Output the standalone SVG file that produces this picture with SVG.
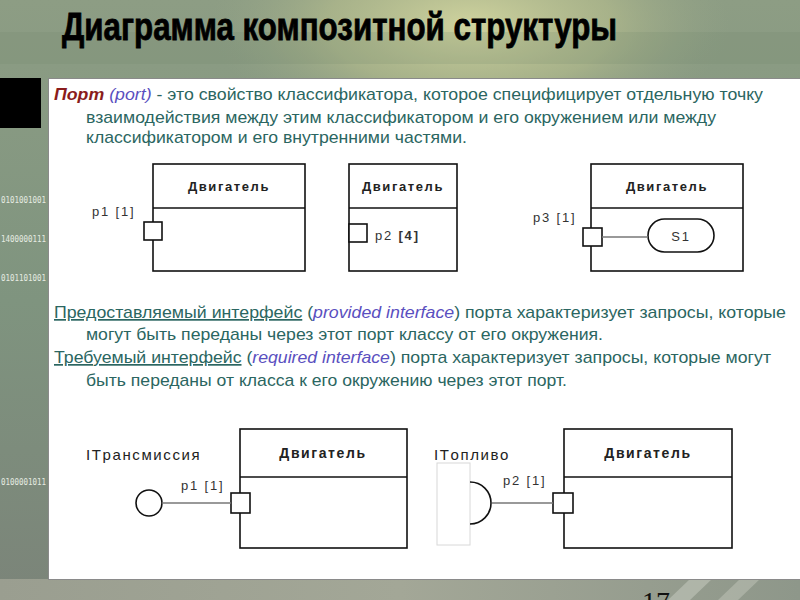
<svg xmlns="http://www.w3.org/2000/svg" width="800" height="600" viewBox="0 0 800 600">
<defs>
<linearGradient id="bg" x1="0" y1="0" x2="0" y2="1">
<stop offset="0" stop-color="#8d9d84"/>
<stop offset="0.5" stop-color="#7f947f"/>
<stop offset="1" stop-color="#7b8479"/>
</linearGradient>
<radialGradient id="glow" cx="470" cy="25" r="260" gradientUnits="userSpaceOnUse" gradientTransform="translate(470 25) scale(1 0.45) translate(-470 -25)">
<stop offset="0" stop-color="#d3d6a0" stop-opacity="0.95"/>
<stop offset="0.55" stop-color="#b9c08e" stop-opacity="0.6"/>
<stop offset="1" stop-color="#9aa888" stop-opacity="0"/>
</radialGradient>
<linearGradient id="streak" x1="0" y1="0" x2="1" y2="0">
<stop offset="0" stop-color="#9a9e90"/>
<stop offset="0.5" stop-color="#a3a797"/>
<stop offset="1" stop-color="#8e978a"/>
</linearGradient>
<style>
.para{font-family:"Liberation Sans",Arial,sans-serif;font-size:17px;fill:#2b6661}
.term{fill:#8a1c1c;font-weight:bold;font-style:italic}
.en{fill:#5a4fc0;font-style:italic}
.ul{text-decoration:underline}
.box{fill:#fff;stroke:#111;stroke-width:1.6}
.port{fill:#fff;stroke:#111;stroke-width:1.6}
.hdr{font-family:"Liberation Sans",Arial,sans-serif;font-weight:bold;font-size:13px;letter-spacing:1.6px;fill:#222;text-anchor:middle}
.hdr2{font-family:"Liberation Sans",Arial,sans-serif;font-weight:bold;font-size:14px;letter-spacing:1.6px;fill:#222;text-anchor:middle}
.lbl{font-family:"Liberation Sans",Arial,sans-serif;font-size:13px;letter-spacing:1.8px;fill:#333}
.lbl2{font-family:"Liberation Sans",Arial,sans-serif;font-size:15px;letter-spacing:1.6px;fill:#222}
.bin{font-family:"DejaVu Sans Mono",monospace;font-size:8px;fill:#e6ece2}
.conn{stroke:#777;stroke-width:1.6;fill:none}
</style>
</defs>
<!-- background -->
<rect x="0" y="0" width="800" height="600" fill="url(#bg)"/>
<rect x="0" y="0" width="800" height="140" fill="url(#glow)"/>
<rect x="0" y="32" width="800" height="32" fill="#6f8468" opacity="0.18"/>
<rect x="0" y="579" width="800" height="21" fill="url(#streak)"/>
<polygon points="690,579 712,579 690,600 668,600" fill="#c2c6ba" opacity="0.6"/>
<polygon points="740,579 760,579 738,600 718,600" fill="#c2c6ba" opacity="0.5"/>
<rect x="0" y="78" width="41" height="50" fill="#000"/>
<text class="bin" x="1" y="203" textLength="45" lengthAdjust="spacingAndGlyphs">0101001001</text>
<text class="bin" x="1" y="242" textLength="45" lengthAdjust="spacingAndGlyphs">1400000111</text>
<text class="bin" x="1" y="281" textLength="45" lengthAdjust="spacingAndGlyphs">0101101001</text>
<text class="bin" x="1" y="485" textLength="45" lengthAdjust="spacingAndGlyphs">0100001011</text>
<!-- title -->
<text x="62" y="40" font-family="Liberation Sans, Arial, sans-serif" font-weight="bold" font-size="39" fill="#000" stroke="#000" stroke-width="0.8" textLength="555" lengthAdjust="spacingAndGlyphs">Диаграмма композитной структуры</text>
<!-- panel -->
<rect x="48.5" y="78.5" width="752" height="501" fill="#fff" stroke="#8a8a8a" stroke-width="1"/>
<!-- paragraph text -->
<text class="para" x="54" y="100" textLength="709" lengthAdjust="spacingAndGlyphs"><tspan class="term">Порт</tspan> <tspan class="en">(port</tspan><tspan class="en" font-style="normal">)</tspan> - это свойство классификатора, которое специфицирует отдельную точку</text>
<text class="para" x="86" y="123" textLength="630" lengthAdjust="spacingAndGlyphs">взаимодействия между этим классификатором и его окружением или между</text>
<text class="para" x="86" y="143" textLength="381" lengthAdjust="spacingAndGlyphs">классификатором и его внутренними частями.</text>
<text class="para" x="54" y="318" textLength="732" lengthAdjust="spacingAndGlyphs"><tspan class="ul">Предоставляемый интерфейс</tspan> (<tspan class="en">provided interface</tspan>) порта характеризует запросы, которые</text>
<text class="para" x="86" y="340" textLength="517" lengthAdjust="spacingAndGlyphs">могут быть переданы через этот порт классу от его окружения.</text>
<text class="para" x="54" y="363" textLength="717" lengthAdjust="spacingAndGlyphs"><tspan class="ul">Требуемый интерфейс</tspan> (<tspan class="en">required interface</tspan>) порта характеризует запросы, которые могут</text>
<text class="para" x="86" y="386" textLength="481" lengthAdjust="spacingAndGlyphs">быть переданы от класса к его окружению через этот порт.</text>
<!-- node 1 -->
<g id="engine1">
<rect class="box" x="153" y="164" width="152" height="107"/>
<line class="box" x1="153" y1="208" x2="305" y2="208"/>
<text class="hdr" x="229" y="191">Двигатель</text>
<rect class="port" x="144" y="222" width="18" height="18"/>
<text class="lbl" x="92" y="216">p1 [1]</text>
</g>
<!-- node 2 -->
<g id="engine2">
<rect class="box" x="349" y="164" width="108" height="107"/>
<line class="box" x1="349" y1="208" x2="457" y2="208"/>
<text class="hdr" x="403" y="191">Двигатель</text>
<rect class="port" x="349" y="224" width="18" height="18"/>
<text class="lbl" x="375" y="240">p2 <tspan font-weight="bold">[4]</tspan></text>
</g>
<!-- node 3 -->
<g id="engine3">
<rect class="box" x="591" y="164" width="152" height="107"/>
<line class="box" x1="591" y1="208" x2="743" y2="208"/>
<text class="hdr" x="667" y="191">Двигатель</text>
<rect class="port" x="583" y="228" width="19" height="18"/>
<text class="lbl" x="533" y="222">p3 [1]</text>
</g>
<g id="s1">
<rect class="box" x="648" y="219" width="66" height="33" rx="16.5" ry="16.5"/>
<text class="lbl" x="681" y="241" text-anchor="middle" letter-spacing="1">S1</text>
</g>
<!-- node 4 -->
<g id="engine4">
<rect class="box" x="240" y="429" width="167" height="119"/>
<line class="box" x1="240" y1="477" x2="407" y2="477"/>
<text class="hdr2" x="323" y="458">Двигатель</text>
<rect class="port" x="231" y="493" width="19" height="20"/>
<text class="lbl" x="181" y="490">p1 [1]</text>
</g>
<g id="provided">
<circle cx="149" cy="503" r="13" fill="#fff" stroke="#111" stroke-width="1.6"/>
<text class="lbl2" x="86" y="460">ITрансмиссия</text>
</g>
<!-- node 5 -->
<g id="engine5">
<rect class="box" x="564" y="429" width="168" height="119"/>
<line class="box" x1="564" y1="477" x2="732" y2="477"/>
<text class="hdr2" x="648" y="458">Двигатель</text>
<rect class="port" x="553" y="493" width="20" height="20"/>
<text class="lbl" x="503" y="485">p2 [1]</text>
</g>
<g id="required">
<rect x="437" y="463" width="33" height="82" fill="#fff" stroke="#d8d8d8" stroke-width="1"/>
<path d="M470,482 A21,21 0 0 1 470,524" fill="none" stroke="#111" stroke-width="1.6"/>
<text class="lbl2" x="434" y="460">ITопливо</text>
</g>
<!-- connectors -->
<g id="connectors">
<line class="conn" x1="602" y1="237" x2="648" y2="237" stroke="#444"/>
<line class="conn" x1="162" y1="503" x2="231" y2="503"/>
<line class="conn" x1="492" y1="503" x2="553" y2="503"/>
</g>
<!-- page number -->
<text x="642" y="611" font-family="Liberation Serif, serif" font-size="28" fill="#111">17</text>
</svg>
